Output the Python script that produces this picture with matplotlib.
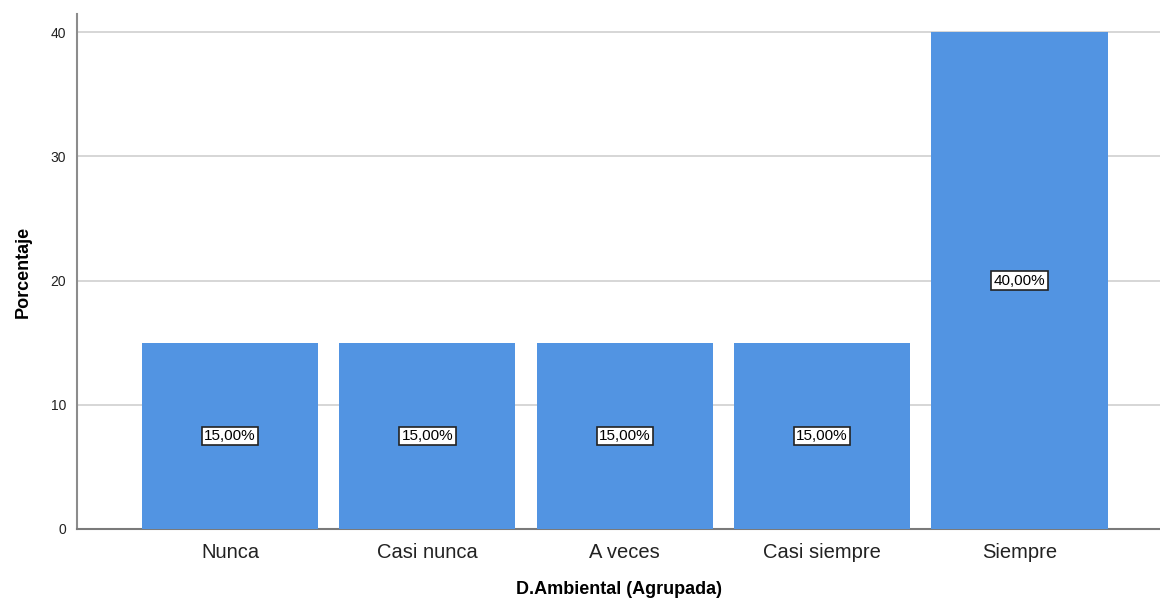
import matplotlib
matplotlib.use("Agg")
import matplotlib.pyplot as plt

plt.rcParams['font.family'] = ['Liberation Sans', 'DejaVu Sans']

categorias = ["Nunca", "Casi nunca", "A veces", "Casi siempre", "Siempre"]
porcentajes = [15.0, 15.0, 15.0, 15.0, 40.0]
etiquetas = ["15,00%", "15,00%", "15,00%", "15,00%", "40,00%"]

fig = plt.figure(figsize=(11.6, 6.04), dpi=100)
ax = fig.add_axes([77 / 1160, 1 - 529 / 604, 1 - 77 / 1160, (529 - 14) / 604])

x = range(len(categorias))
ax.bar(x, porcentajes, width=0.892, color="#5294e2", zorder=3)

for i, (v, t) in enumerate(zip(porcentajes, etiquetas)):
    ax.text(i, v / 2, t, ha="center", va="center", fontsize=11, zorder=4,
            bbox=dict(boxstyle="square,pad=0.15", fc="white", ec="#222222", lw=1.2))

ax.set_xlim(-0.7755, 4.712)
ax.set_ylim(0, 41.45)
ax.set_yticks([0, 10, 20, 30, 40])
ax.set_xticks(list(x))
ax.set_xticklabels(categorias, fontsize=14.5, color="#222222")
ax.tick_params(axis="y", length=0, pad=8, labelsize=10, labelcolor="#222222")
ax.tick_params(axis="x", length=0, pad=10)

ax.grid(axis="y", color="#d3d3d3", lw=1.3, zorder=0)
for s in ["top", "right"]:
    ax.spines[s].set_visible(False)
ax.spines["left"].set_color("#8c8c8c")
ax.spines["left"].set_linewidth(1.5)
ax.spines["bottom"].set_color("#7a7a7a")
ax.spines["bottom"].set_linewidth(1.5)

ax.set_xlabel("D.Ambiental (Agrupada)", fontsize=13, fontweight="bold", labelpad=14)
ax.set_ylabel("Porcentaje", fontsize=13, fontweight="bold", labelpad=13)

fig.savefig("out.png", dpi=100)
